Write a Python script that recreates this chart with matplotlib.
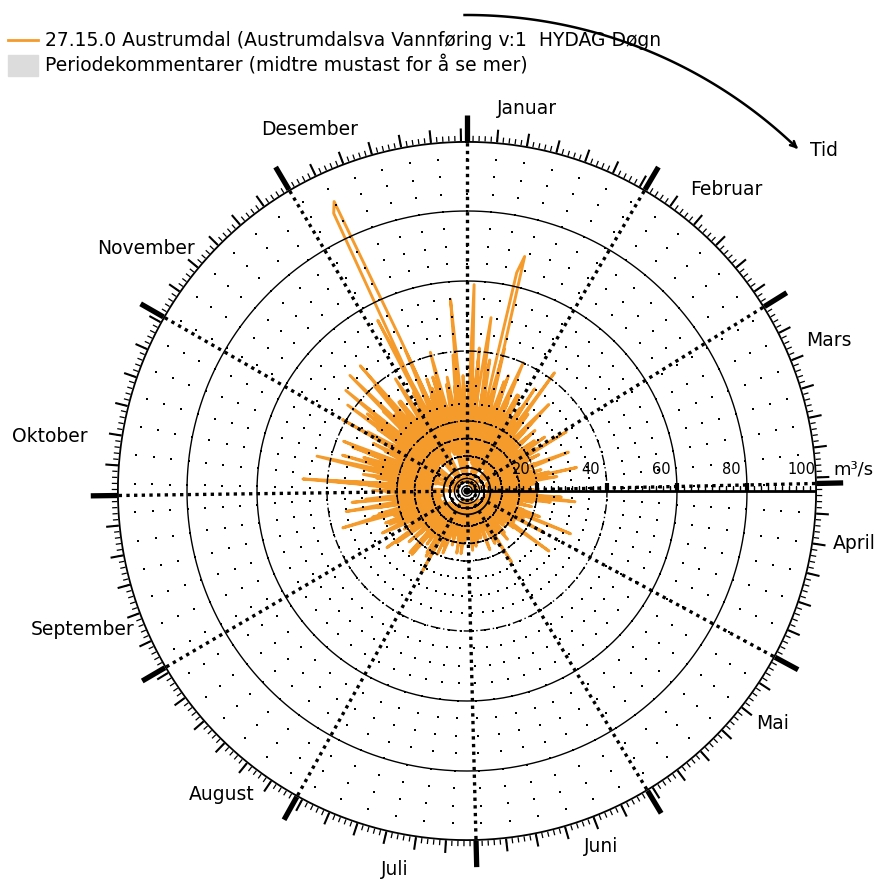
import numpy as np
import matplotlib
matplotlib.use("Agg")
import matplotlib.pyplot as plt
from matplotlib.lines import Line2D
from matplotlib.patches import Rectangle
from matplotlib.markers import TICKUP

plt.rcParams['font.family'] = ['DejaVu Sans']

# DOGNVERDIER VANNFORING (m3/s), FEM AR ETTER HVERANDRE FRA 1. JANUAR

aar1 = [
    12, 24, 59, 31, 20, 41, 26, 17, 13, 11, 18, 27, 16, 12, 5, 3, 14, 22, 15, 11, 35, 21, 14, 11, 4, 3, 13, 19, 12, 9, 8,
    7, 11, 18, 35, 20, 13, 10, 8, 12, 21, 14, 10, 8, 7, 9, 16, 11, 4, 3, 2, 10, 18, 12, 9, 14, 27, 16, 11,
    9, 33, 19, 12, 9, 8, 7, 11, 17, 12, 9, 7, 6, 6, 9, 15, 22, 14, 10, 8, 32, 18, 12, 9, 8, 7, 10, 16, 11, 8, 7,
    7, 10, 15, 11, 9, 27, 16, 11, 9, 8, 12, 19, 13, 9, 7, 6, 8, 14, 10, 8, 7, 6, 9, 13, 10, 8, 7, 11, 18, 12,
    25, 15, 10, 8, 7, 6, 9, 14, 29, 16, 10, 8, 7, 6, 5, 8, 12, 9, 7, 6, 5, 5, 7, 11, 8, 6, 5, 9, 15, 10, 7,
    6, 5, 5, 8, 12, 8, 6, 5, 4, 4, 7, 11, 8, 6, 5, 4, 6, 10, 14, 9, 6, 5, 4, 4, 6, 9, 7, 5, 4, 4,
    5, 8, 12, 8, 6, 5, 4, 4, 6, 10, 7, 5, 4, 4, 5, 9, 13, 9, 6, 5, 4, 4, 7, 12, 8, 6, 5, 4, 6, 11, 8,
    26, 14, 9, 7, 6, 5, 8, 13, 9, 7, 6, 10, 16, 11, 8, 6, 5, 7, 12, 18, 12, 8, 6, 9, 14, 10, 7, 6, 8, 13, 9,
    7, 11, 17, 12, 9, 7, 10, 16, 22, 14, 10, 8, 12, 19, 13, 9, 8, 11, 18, 12, 9, 7, 10, 15, 21, 14, 10, 8, 12, 18,
    13, 4, 3, 14, 24, 47, 26, 16, 12, 10, 15, 22, 15, 11, 9, 13, 20, 37, 21, 14, 11, 9, 14, 23, 15, 5, 3, 12, 19, 13, 10,
    41, 23, 15, 12, 10, 14, 21, 15, 4, 3, 37, 20, 14, 11, 16, 24, 16, 12, 10, 15, 47, 26, 17, 13, 11, 16, 25, 17, 13, 11,
    14, 22, 15, 55, 30, 18, 14, 12, 17, 26, 17, 13, 11, 15, 34, 19, 14, 12, 16, 24, 16, 5, 3, 14, 21, 15, 11, 13, 18, 4, 3,
]
aar2 = [
    9, 14, 21, 15, 11, 9, 13, 19, 13, 10, 8, 12, 18, 64, 69, 36, 22, 15, 12, 10, 14, 23, 16, 12, 3, 2, 12, 20, 14, 10, 8,
    7, 10, 16, 12, 9, 8, 42, 24, 15, 11, 9, 13, 21, 14, 10, 8, 7, 11, 17, 12, 9, 7, 6, 9, 15, 11, 8, 7,
    6, 9, 14, 10, 8, 7, 11, 18, 13, 9, 7, 6, 8, 13, 10, 8, 7, 6, 10, 16, 12, 9, 7, 6, 9, 14, 11, 8, 7, 6, 8,
    12, 9, 7, 6, 8, 13, 22, 31, 17, 11, 8, 7, 6, 9, 14, 10, 8, 6, 5, 8, 12, 9, 7, 6, 5, 7, 11, 8, 6, 5,
    7, 10, 8, 6, 5, 5, 7, 11, 8, 6, 5, 4, 6, 10, 14, 9, 7, 5, 4, 4, 6, 9, 7, 5, 4, 4, 6, 10, 7, 5, 24,
    13, 8, 6, 5, 4, 4, 6, 9, 7, 5, 4, 3, 5, 8, 6, 4, 3, 3, 5, 9, 13, 8, 5, 4, 3, 4, 7, 5, 4, 3,
    3, 5, 8, 6, 4, 3, 3, 5, 9, 6, 4, 3, 3, 4, 7, 5, 4, 3, 5, 9, 13, 8, 5, 4, 3, 4, 6, 10, 7, 5, 4,
    4, 7, 11, 8, 6, 5, 9, 15, 10, 7, 5, 11, 24, 14, 9, 7, 6, 10, 16, 11, 8, 6, 9, 14, 10, 7, 28, 16, 10, 8, 7,
    10, 15, 11, 8, 7, 11, 17, 12, 9, 8, 12, 18, 13, 22, 37, 21, 14, 11, 9, 13, 20, 14, 11, 9, 14, 21, 15, 11, 9, 13,
    19, 14, 4, 3, 13, 20, 14, 11, 15, 24, 16, 12, 10, 14, 21, 15, 5, 3, 16, 25, 17, 13, 35, 20, 14, 11, 16, 23, 15, 12, 10,
    14, 21, 15, 4, 3, 15, 24, 17, 13, 26, 18, 13, 11, 16, 28, 47, 25, 16, 12, 17, 26, 17, 4, 3, 15, 23, 16, 12, 18, 27,
    17, 13, 21, 30, 43, 88, 91, 48, 26, 18, 14, 19, 28, 18, 14, 12, 17, 25, 17, 4, 3, 15, 22, 16, 12, 18, 55, 30, 18, 14, 12,
]
aar3 = [
    16, 24, 17, 13, 11, 15, 23, 34, 50, 27, 17, 13, 11, 15, 22, 15, 12, 10, 14, 20, 14, 4, 2, 13, 19, 28, 18, 13, 10, 9, 12,
    18, 13, 10, 9, 13, 21, 15, 11, 9, 8, 12, 19, 13, 10, 3, 2, 10, 16, 12, 9, 7, 10, 15, 22, 14, 10, 8, 7,
    10, 16, 12, 9, 8, 12, 19, 13, 10, 8, 7, 10, 16, 11, 8, 3, 2, 9, 14, 24, 15, 10, 8, 7, 10, 15, 11, 8, 7, 6, 9,
    14, 10, 8, 7, 11, 18, 12, 9, 7, 6, 8, 13, 9, 7, 6, 5, 8, 12, 9, 7, 6, 9, 15, 11, 32, 17, 10, 8, 7, 6,
    9, 13, 9, 7, 6, 5, 8, 12, 9, 7, 6, 5, 7, 11, 8, 6, 5, 4, 6, 10, 15, 10, 7, 5, 4, 5, 8, 12, 8, 6, 5,
    4, 6, 10, 7, 5, 4, 4, 6, 9, 12, 8, 6, 4, 4, 5, 8, 6, 4, 3, 5, 15, 9, 6, 4, 4, 5, 8, 6, 4, 4,
    6, 10, 7, 5, 4, 4, 6, 11, 8, 5, 4, 4, 7, 12, 8, 6, 5, 4, 6, 10, 7, 5, 4, 5, 9, 14, 9, 20, 12, 8, 6,
    5, 8, 13, 9, 7, 6, 10, 16, 11, 8, 7, 11, 17, 12, 9, 7, 6, 10, 15, 11, 8, 7, 10, 16, 12, 9, 8, 12, 19, 13, 10,
    8, 12, 18, 13, 10, 8, 11, 17, 12, 9, 14, 21, 15, 11, 9, 13, 20, 14, 11, 16, 24, 35, 20, 14, 11, 15, 22, 15, 12, 10,
    14, 21, 15, 12, 17, 26, 18, 13, 11, 16, 24, 16, 12, 18, 27, 18, 13, 11, 16, 23, 16, 12, 19, 28, 18, 14, 12, 17, 25, 17, 13,
    11, 16, 25, 17, 13, 19, 28, 19, 36, 20, 14, 12, 17, 26, 17, 13, 20, 30, 19, 14, 12, 17, 25, 17, 4, 3, 16, 24, 16, 13,
    19, 28, 18, 4, 3, 17, 26, 17, 13, 20, 29, 19, 14, 12, 18, 27, 18, 5, 3, 16, 24, 17, 13, 20, 30, 20, 14, 12, 17, 25, 17,
]
aar4 = [
    18, 26, 33, 22, 17, 25, 31, 21, 16, 28, 38, 24, 18, 15, 21, 30, 20, 16, 24, 33, 22, 17, 14, 20, 29, 19, 15, 22, 31, 21, 16,
    14, 20, 28, 19, 15, 12, 18, 26, 18, 14, 12, 17, 25, 34, 19, 14, 12, 16, 23, 16, 12, 10, 15, 22, 15, 12, 10, 14,
    20, 14, 11, 10, 15, 23, 16, 12, 10, 14, 21, 31, 18, 13, 11, 10, 14, 20, 14, 11, 9, 13, 19, 26, 17, 12, 10, 9, 13, 18, 13,
    10, 9, 13, 20, 14, 11, 9, 12, 18, 24, 16, 12, 10, 9, 12, 17, 12, 10, 8, 11, 16, 22, 15, 11, 9, 8, 11, 15, 11, 9,
    8, 11, 16, 11, 9, 8, 7, 10, 14, 20, 13, 10, 8, 7, 10, 14, 10, 8, 7, 6, 9, 13, 18, 12, 9, 7, 6, 9, 13, 9, 7,
    6, 8, 12, 17, 11, 8, 6, 5, 8, 11, 8, 6, 5, 7, 10, 14, 10, 7, 6, 5, 7, 11, 16, 10, 7, 6, 5, 8, 12, 8,
    6, 5, 7, 11, 15, 10, 7, 6, 5, 8, 12, 18, 11, 8, 6, 5, 7, 10, 14, 9, 7, 6, 8, 12, 17, 11, 8, 6, 5, 8, 12,
    9, 7, 10, 15, 21, 14, 10, 8, 11, 17, 12, 9, 8, 12, 19, 13, 10, 8, 11, 16, 22, 15, 11, 9, 12, 18, 13, 10, 8, 12, 17,
    12, 10, 14, 21, 15, 12, 16, 24, 17, 13, 11, 15, 22, 16, 12, 17, 26, 18, 13, 11, 16, 23, 16, 12, 18, 33, 19, 14, 12, 16,
    23, 17, 13, 19, 28, 20, 15, 12, 18, 26, 18, 14, 20, 30, 21, 16, 13, 19, 28, 19, 15, 22, 31, 21, 16, 13, 18, 26, 18, 14, 12,
    17, 25, 18, 14, 21, 31, 21, 16, 13, 19, 28, 19, 15, 22, 33, 22, 16, 13, 19, 29, 20, 15, 23, 32, 21, 16, 14, 20, 30, 20,
    15, 22, 32, 22, 16, 13, 19, 29, 20, 15, 24, 34, 23, 17, 14, 20, 30, 21, 16, 22, 31, 21, 16, 13, 19, 28, 20, 15, 23, 33, 22,
]
aar5 = [
    22, 30, 24, 19, 26, 38, 25, 20, 17, 23, 31, 26, 21, 18, 25, 42, 27, 21, 18, 24, 30, 23, 19, 27, 40, 26, 21, 18, 24, 31, 25,
    20, 17, 23, 29, 22, 18, 15, 21, 28, 22, 17, 14, 20, 27, 21, 17, 14, 19, 26, 20, 16, 13, 18, 24, 19, 15, 13, 18,
    23, 18, 14, 12, 17, 22, 17, 13, 11, 16, 21, 16, 13, 11, 15, 20, 15, 12, 10, 14, 19, 23, 17, 13, 11, 15, 20, 15, 12, 10, 14,
    19, 14, 11, 10, 14, 20, 15, 12, 10, 13, 18, 14, 11, 9, 13, 19, 14, 11, 9, 12, 17, 13, 10, 9, 12, 18, 13, 10, 9, 12,
    17, 12, 10, 8, 11, 16, 12, 9, 8, 11, 17, 12, 9, 8, 10, 15, 11, 9, 7, 10, 16, 12, 9, 7, 10, 15, 11, 9, 7, 10, 14,
    10, 8, 7, 10, 15, 11, 8, 7, 9, 14, 18, 12, 9, 7, 9, 13, 10, 8, 7, 10, 15, 11, 8, 7, 9, 14, 17, 11, 8, 7,
    9, 13, 10, 8, 7, 10, 15, 18, 12, 9, 7, 9, 14, 10, 8, 7, 10, 16, 12, 9, 7, 10, 15, 19, 13, 9, 8, 11, 16, 12, 9,
    8, 11, 17, 22, 15, 11, 9, 13, 19, 14, 11, 9, 12, 18, 24, 16, 12, 10, 13, 20, 15, 11, 9, 13, 19, 25, 17, 12, 10, 14, 21,
    15, 12, 16, 23, 27, 19, 14, 12, 17, 25, 18, 14, 12, 17, 24, 28, 20, 15, 13, 18, 26, 19, 15, 13, 18, 25, 29, 21, 16, 14,
    19, 27, 21, 17, 23, 40, 24, 19, 16, 22, 30, 23, 19, 26, 44, 25, 20, 17, 23, 31, 24, 19, 25, 38, 24, 19, 17, 23, 30, 23, 19,
    25, 33, 25, 20, 17, 24, 42, 24, 19, 26, 45, 26, 20, 17, 23, 31, 24, 19, 25, 40, 25, 20, 17, 24, 32, 25, 20, 26, 38, 26,
    20, 18, 24, 32, 25, 20, 27, 44, 26, 21, 18, 24, 31, 24, 19, 26, 41, 26, 21, 18, 25, 33, 25, 20, 27, 39, 27, 21, 18, 24, 30,
]

maaneder = ["Januar", "Februar", "Mars", "April", "Mai", "Juni",
            "Juli", "August", "September", "Oktober", "November", "Desember"]
dager_i_maaned = [31, 28, 31, 30, 31, 30, 31, 31, 30, 31, 30, 31]
ring_verdier = [20, 40, 60, 80, 100]

serie_tekst = "27.15.0 Austrumdal (Austrumdalsva Vannføring v:1  HYDAG Døgn"
kommentar_tekst = "Periodekommentarer (midtre mustast for å se mer)"
ORANSJE = "#f59b2c"

# plassering av maanedsnavn: (dag, radius, justering)
navn_dag = [4.5, 37, 67, 99.6, 130.5, 164, 193.5, 218, 250.8, 282, 316, 348]
navn_r = [109.5, 107, 106, 105.7, 106, 107, 110, 106, 103, 109.5, 104, 108]
navn_ha = ["left"] * 6 + ["center"] + ["right"] * 5


def vinkel(dag):
    # dag i aret -> vinkel, 1. januar rett opp og med klokka
    return 2 * np.pi * np.asarray(dag, dtype=float) / 365.0


W, H = 878, 881
fig = plt.figure(figsize=(W / 100, H / 100), dpi=100)
ax = fig.add_axes([117 / W, 40 / H, 700 / W, 700 / H], projection="polar")
ax.set_theta_zero_location("N")
ax.set_theta_direction(-1)
ax.set_rlim(0, 100)
ax.set_xticks([])
ax.set_yticks([])
ax.grid(False)
ax.spines["polar"].set_visible(False)

# VANNFORING
verdier = np.array(aar1 + aar2 + aar3 + aar4 + aar5, dtype=float)
ax.plot(vinkel(np.arange(len(verdier))), verdier, color=ORANSJE, lw=2.1, zorder=2)

# RUTENETT
sirkel = np.linspace(0, 2 * np.pi, 721)
stil = {"color": "black", "zorder": 3}
for r in [1.5, 2.6, 3.6]:
    ax.plot(sirkel, np.full_like(sirkel, r), lw=1.0, **stil)
ax.plot(sirkel, np.full_like(sirkel, 6.7), lw=1.3, **stil)
for r in [10, 15]:
    ax.plot(sirkel, np.full_like(sirkel, r), lw=1.2, ls=(0, (3, 2)), **stil)
for r in [20, 40]:
    ax.plot(sirkel, np.full_like(sirkel, r), lw=1.0, ls=(0, (7, 2, 1, 2)), **stil)
for r in [60, 80]:
    ax.plot(sirkel, np.full_like(sirkel, r), lw=1.0, **stil)
ax.plot(sirkel, np.full_like(sirkel, 100), lw=2.6, **stil)

# prikkete hjelpelinjer
gd, gr = np.meshgrid(np.arange(0, 365, 5), np.arange(5, 100, 5))
ax.scatter(vinkel(gd.ravel()), gr.ravel(), s=2.4, marker="s", color="black",
           lw=0, zorder=3)

maaned_start = np.concatenate([[0], np.cumsum(dager_i_maaned)[:-1]])
ax.vlines(vinkel(maaned_start), 0, 100, colors="black", lw=2.4,
          linestyles=(0, (1, 1.3)), zorder=3)

# SKALA LANGS YTTERSIRKELEN
dag_ticks = ax.vlines(vinkel(np.arange(365)), 100, 101.5, colors="black", lw=0.9, zorder=3)
fem = [s + k for s, n in zip(maaned_start, dager_i_maaned) for k in range(5, n, 5)]
fem_ticks = ax.vlines(vinkel(fem), 100, 103.6, colors="black", lw=1.5, zorder=3)
mnd_ticks = ax.vlines(vinkel(maaned_start), 100, 107.5, colors="black", lw=3.8, zorder=3)
for t in (dag_ticks, fem_ticks, mnd_ticks):
    t.set_clip_on(False)
    t.set_capstyle("butt")

for navn, d, r, ha in zip(maaneder, navn_dag, navn_r, navn_ha):
    ax.text(vinkel(d), r, navn, fontsize=13.5, ha=ha, va="center", clip_on=False)

# VERDIAKSE
akse = np.pi / 2
ax.plot([akse, akse], [0, 100], color="black", lw=2.0, zorder=4)
ax.plot(np.full(49, akse), np.arange(2, 100, 2), ls="none", marker=TICKUP,
        markersize=3.5, mew=1.0, color="black", zorder=4)
ax.plot(np.full(4, akse), ring_verdier[:-1], ls="none", marker=TICKUP,
        markersize=5.5, mew=3.0, color="black", zorder=4)
for v in ring_verdier:
    ax.annotate(str(v), (akse, v), xytext=(-16, 22), textcoords="offset pixels",
                fontsize=10.5, ha="center", va="center", annotation_clip=False)
ax.annotate("m³/s", (akse, 100), xytext=(16, 21), textcoords="offset pixels",
            fontsize=13, ha="left", va="center", annotation_clip=False)

# TIDSPIL
bue = np.linspace(vinkel(-0.3), vinkel(44.2), 100)
ax.plot(bue, np.full_like(bue, 136), color="black", lw=1.8, clip_on=False)
ax.annotate("", xy=(vinkel(45.0), 136), xytext=(vinkel(44.0), 136),
            arrowprops=dict(arrowstyle="->", color="black", lw=1.8, mutation_scale=10),
            annotation_clip=False)
ax.annotate("Tid", (vinkel(45.0), 136), xytext=(10, 0), textcoords="offset pixels",
            fontsize=13.5, ha="left", va="center", annotation_clip=False)

# TEGNFORKLARING
fig.add_artist(Line2D([8 / W, 38 / W], [1 - 40 / H, 1 - 40 / H], color=ORANSJE,
                      lw=2.0, transform=fig.transFigure))
fig.add_artist(Rectangle((8 / W, 1 - 76 / H), 30 / W, 21 / H, color="#dcdcdc",
                         transform=fig.transFigure))
fig.text(45 / W, 1 - 40 / H, serie_tekst, fontsize=13.5, ha="left", va="center")
fig.text(45 / W, 1 - 66 / H, kommentar_tekst, fontsize=13.5, ha="left", va="center")

fig.savefig("out.png", dpi=100)
